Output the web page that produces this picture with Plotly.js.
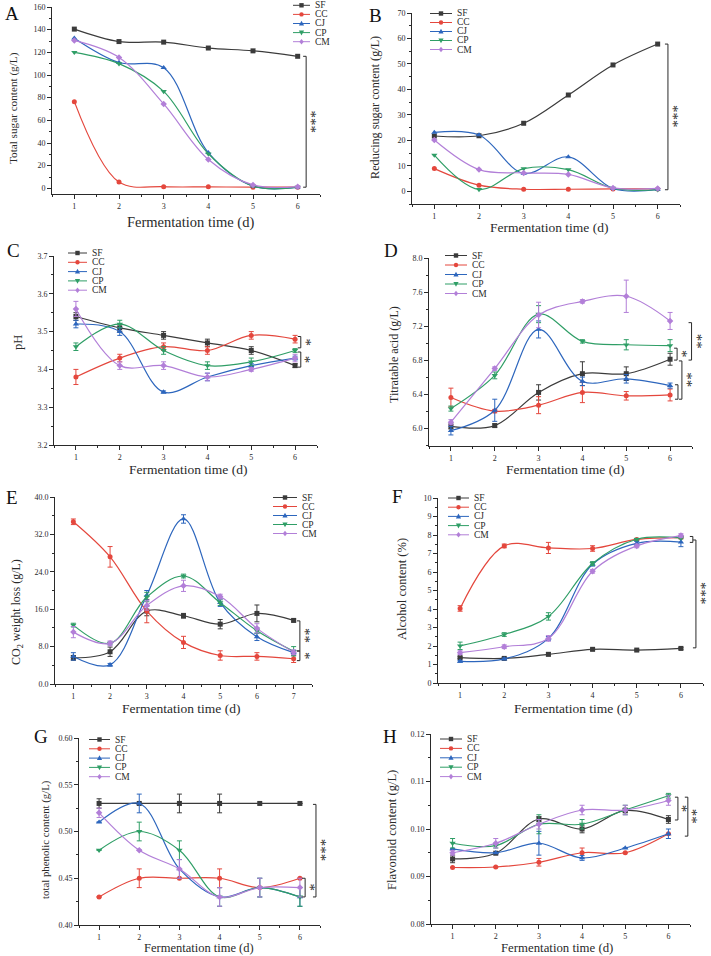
<!DOCTYPE html>
<html><head><meta charset="utf-8">
<script src="https://cdn.plot.ly/plotly-3.0.1.min.js"></script>
<style>html,body{margin:0;padding:0;background:#fff}#chart{width:711px;height:956px}</style>
</head><body><div id="chart"></div>
<script>
// ---------- DATA ----------
const seriesNames = ['SF', 'CC', 'CJ', 'CP', 'CM'];
const days6 = [1, 2, 3, 4, 5, 6];
const days7 = [1, 2, 3, 4, 5, 6, 7];

// A: Total sugar content (g/L)
const sugarSF = [140.5, 129.5, 129, 123.8, 121.3, 116.5];
const sugarCC = [76.5, 5.5, 1.5, 1.3, 1, 1];
const sugarCJ = [132.5, 111, 106.5, 31.5, 2, 1];
const sugarCP = [120, 110, 85.5, 30.5, 2, 1];
const sugarCM = [130.5, 115.5, 74.5, 25.5, 3, 1.5];

// B: Reducing sugar content (g/L)
const redSF = [21.7, 21.8, 26.7, 37.8, 49.6, 57.8];
const redCC = [8.9, 2.4, 0.8, 0.8, 0.9, 0.9];
const redCJ = [23.1, 22.1, 7.0, 13.5, 1.1, 0.7];
const redCP = [14.2, 0.7, 8.9, 8.5, 1.2, 0.6];
const redCM = [20.1, 8.5, 7.2, 6.6, 1.3, 1.1];

// C: pH
const phSF = [3.54, 3.51, 3.49, 3.47, 3.45, 3.41];
const phCC = [3.38, 3.43, 3.46, 3.45, 3.49, 3.48];
const phCJ = [3.52, 3.50, 3.34, 3.38, 3.41, 3.43];
const phCP = [3.46, 3.52, 3.45, 3.41, 3.42, 3.45];
const phCM = [3.56, 3.41, 3.41, 3.38, 3.40, 3.43];
const phErrSF = [0.01, 0.01, 0.01, 0.01, 0.01, 0.005];
const phErrCC = [0.02, 0.01, 0.01, 0.01, 0.01, 0.01];
const phErrCJ = [0.01, 0.01, 0.003, 0.01, 0.005, 0.005];
const phErrCP = [0.01, 0.01, 0.01, 0.01, 0.01, 0.005];
const phErrCM = [0.02, 0.01, 0.01, 0.01, 0.005, 0.01];

// D: Titratable acid (g/L)
const taSF = [6.02, 6.03, 6.42, 6.64, 6.64, 6.81];
const taCC = [6.36, 6.20, 6.27, 6.42, 6.38, 6.39];
const taCJ = [5.97, 6.21, 7.16, 6.55, 6.58, 6.50];
const taCP = [6.23, 6.62, 7.34, 7.02, 6.98, 6.97];
const taCM = [6.07, 6.70, 7.33, 7.49, 7.55, 7.26];
const taErrSF = [0.03, 0.02, 0.09, 0.14, 0.08, 0.07];
const taErrCC = [0.11, 0.02, 0.10, 0.12, 0.05, 0.07];
const taErrCJ = [0.05, 0.13, 0.10, 0.05, 0.05, 0.03];
const taErrCP = [0.03, 0.04, 0.10, 0.02, 0.06, 0.07];
const taErrCM = [0.03, 0.02, 0.15, 0.02, 0.19, 0.10];

// E: CO2 weight loss (g/L), 7 days
const co2SF = [5.6, 6.9, 15.6, 14.6, 12.8, 15.1, 13.6];
const co2CC = [34.7, 27.2, 15.6, 8.9, 6.1, 5.9, 5.4];
const co2CJ = [5.9, 4.1, 19.0, 35.3, 17.4, 10.1, 6.7];
const co2CP = [12.6, 8.7, 18.6, 23.1, 17.4, 11.4, 7.0];
const co2CM = [11.1, 8.7, 16.8, 21.0, 18.7, 11.9, 6.8];
const co2ErrSF = [0.5, 1.0, 1.0, 0.5, 1.0, 1.8, 0.3];
const co2ErrCC = [0.6, 2.2, 2.5, 1.3, 1.0, 0.8, 0.8];
const co2ErrCJ = [0.8, 0.3, 1.0, 0.9, 0.8, 0.8, 0.5];
const co2ErrCP = [0.4, 0.3, 1.0, 0.4, 0.6, 0.6, 1.0];
const co2ErrCM = [1.2, 0.5, 1.0, 1.2, 0.5, 1.0, 0.5];

// F: Alcohol content (%)
const alcSF = [1.37, 1.33, 1.55, 1.82, 1.78, 1.87];
const alcCC = [4.03, 7.41, 7.30, 7.27, 7.76, 7.86];
const alcCJ = [1.17, 1.30, 2.41, 6.42, 7.55, 7.62];
const alcCP = [2.01, 2.62, 3.60, 6.46, 7.77, 7.84];
const alcCM = [1.64, 1.96, 2.41, 6.04, 7.41, 7.97];
const alcErrSF = [0.05, 0.05, 0.08, 0.05, 0.04, 0.05];
const alcErrCC = [0.15, 0.10, 0.30, 0.15, 0.05, 0.05];
const alcErrCJ = [0.05, 0.05, 0.10, 0.10, 0.10, 0.25];
const alcErrCP = [0.20, 0.10, 0.20, 0.10, 0.05, 0.05];
const alcErrCM = [0.10, 0.10, 0.15, 0.10, 0.10, 0.10];

// G: total phenolic content (g/L)
const phenSF = [0.53, 0.53, 0.53, 0.53, 0.53, 0.53];
const phenCC = [0.43, 0.45, 0.45, 0.45, 0.44, 0.45];
const phenCJ = [0.51, 0.53, 0.46, 0.43, 0.44, 0.43];
const phenCP = [0.48, 0.50, 0.48, 0.43, 0.44, 0.43];
const phenCM = [0.52, 0.48, 0.46, 0.43, 0.44, 0.44];
const phenErrSF = [0.005, 0, 0.01, 0.01, 0, 0];
const phenErrCC = [0, 0.01, 0, 0.01, 0, 0];
const phenErrCJ = [0, 0.01, 0.01, 0.01, 0.01, 0.01];
const phenErrCP = [0, 0.01, 0.01, 0.01, 0.01, 0.01];
const phenErrCM = [0.005, 0, 0.01, 0.01, 0.01, 0.01];

// H: Flavonoid content (g/L)
const flavSF = [0.0937, 0.0949, 0.1021, 0.1000, 0.1039, 0.1020];
const flavCC = [0.0919, 0.0920, 0.0930, 0.0950, 0.0950, 0.0990];
const flavCJ = [0.0958, 0.0950, 0.0970, 0.0939, 0.0960, 0.0990];
const flavCP = [0.0970, 0.0965, 0.1010, 0.1010, 0.1040, 0.1070];
const flavCM = [0.0950, 0.0970, 0.1010, 0.1040, 0.1040, 0.1060];
const flavErrSF = [0.0008, 0, 0.0005, 0.0008, 0.0005, 0.0008];
const flavErrCC = [0, 0, 0.0008, 0.001, 0, 0];
const flavErrCJ = [0, 0, 0.0025, 0.0005, 0, 0.001];
const flavErrCP = [0.001, 0.0005, 0.002, 0.001, 0.001, 0.0005];
const flavErrCM = [0.0005, 0.001, 0.001, 0.001, 0.001, 0.001];

// ---------- STYLE / LAYOUT ----------
const W = 711, H = 956;
const colors = ['#3b3b3b', '#e4473d', '#2d66bd', '#2f9e66', '#b27fd8'];
const symbols = ['square', 'circle', 'triangle-up', 'triangle-down', 'diamond'];
const SERIF = 'Liberation Serif, Times New Roman, serif';
const INK = '#2a2a2a';

const panels = [
  {letter:'A', box:[52,320,7,194], xr:[0.5,6.5], yr:[-5,160], t0:0, dt:20, mdt:10, fmt:'d', x:days6,
   ys:[sugarSF,sugarCC,sugarCJ,sugarCP,sugarCM], es:null,
   ytitle:'Total sugar content (g/L)', yt:[13,108], yfs:11.2, xt:[191,222.5], xfs:14.5, lt:[12,14], leg:[293,310,5.3,9.1]},
  {letter:'B', box:[412,680,13,204], xr:[0.5,6.5], yr:[-5,70], t0:0, dt:10, mdt:5, fmt:'d', x:days6,
   ys:[redSF,redCC,redCJ,redCP,redCM], es:null,
   ytitle:'Reducing sugar content (g/L)', yt:[375,108], yfs:12.2, xt:[549,227.5], xfs:13.5, lt:[375,15], leg:[430,452,13.5,9]},
  {letter:'C', box:[54,317,256,445], xr:[0.5,6.5], yr:[3.2,3.7], t0:3.2, dt:0.1, mdt:0.05, fmt:'.1f', x:days6,
   ys:[phSF,phCC,phCJ,phCP,phCM], es:[phErrSF,phErrCC,phErrCJ,phErrCP,phErrCM],
   ytitle:'pH', yt:[18,343], yfs:12.5, xt:[188,469], xfs:13.5, lt:[13,250], leg:[68,87,253,9.3]},
  {letter:'D', box:[429,692,258,446], xr:[0.5,6.5], yr:[5.79,8.0], t0:6.0, dt:0.4, mdt:0.2, fmt:'.1f', x:days6,
   ys:[taSF,taCC,taCJ,taCP,taCM], es:[taErrSF,taErrCC,taErrCJ,taErrCP,taErrCM],
   ytitle:'Titratable acid (g/L)', yt:[394,355], yfs:12, xt:[565,469], xfs:13.5, lt:[391,250], leg:[445,467,255.5,9.5]},
  {letter:'E', box:[55,312,497,684], xr:[0.5,7.5], yr:[0,40], t0:0, dt:8, mdt:4, fmt:'.1f', x:days7,
   ys:[co2SF,co2CC,co2CJ,co2CP,co2CM], es:[co2ErrSF,co2ErrCC,co2ErrCJ,co2ErrCP,co2ErrCM],
   ytitle:'CO<sub>2</sub> weight loss (g/L)', yt:[17,612], yfs:12, xt:[181,708], xfs:13.5, lt:[12,497], leg:[273,297,497.5,9]},
  {letter:'F', box:[438,703,498,683], xr:[0.5,6.5], yr:[0,10], t0:0, dt:1, mdt:0.5, fmt:'d', x:days6,
   ys:[alcSF,alcCC,alcCJ,alcCP,alcCM], es:[alcErrSF,alcErrCC,alcErrCJ,alcErrCP,alcErrCM],
   ytitle:'Alcohol content (%)', yt:[402,589], yfs:12.5, xt:[573,708], xfs:13.5, lt:[397,496], leg:[448,469,498,9.2]},
  {letter:'G', box:[79,320,738,925], xr:[0.5,6.5], yr:[0.4,0.6], t0:0.4, dt:0.05, mdt:0.025, fmt:'.2f', x:days6,
   ys:[phenSF,phenCC,phenCJ,phenCP,phenCM], es:[phenErrSF,phenErrCC,phenErrCJ,phenErrCP,phenErrCM],
   ytitle:'total phenolic content (g/L)', yt:[45,840], yfs:10.8, xt:[199,948], xfs:12.5, lt:[41,736], leg:[89,110,739.5,9.3]},
  {letter:'H', box:[431,690,734,924], xr:[0.5,6.5], yr:[0.08,0.12], t0:0.08, dt:0.01, mdt:0.005, fmt:'.2f', x:days6,
   ys:[flavSF,flavCC,flavCJ,flavCP,flavCM], es:[flavErrSF,flavErrCC,flavErrCJ,flavErrCP,flavErrCM],
   ytitle:'Flavonoid content (g/L)', yt:[392,830], yfs:12.6, xt:[557,948], xfs:12.8, lt:[390,736], leg:[440,462,739,9.4]}
];

// significance brackets (panel index, x in data units, top/bottom values, label)
const brackets = [
  {p:0, x:6.19, top:116.5, bot:1.0, label:'***'},
  {p:1, x:6.23, top:57.8, bot:0.6, label:'***'},
  {p:2, x:6.13, top:3.487, bot:3.457, label:'*'},
  {p:2, x:6.13, top:3.446, bot:3.406, label:'*'},
  {p:3, x:6.16, top:6.94, bot:6.80, label:'*'},
  {p:3, x:6.49, top:7.24, bot:6.80, label:'**'},
  {p:3, x:6.27, top:6.79, bot:6.34, label:'**'},
  {p:3, x:6.18, top:6.51, bot:6.34, label:''},
  {p:4, x:7.17, top:13.5, bot:7.06, label:'**'},
  {p:4, x:7.17, top:7.06, bot:5.0, label:'*'},
  {p:5, x:6.27, top:7.92, bot:7.60, label:''},
  {p:5, x:6.34, top:7.73, bot:1.90, label:'***'},
  {p:6, x:6.40, top:0.529, bot:0.43, label:'***'},
  {p:6, x:6.13, top:0.45, bot:0.43, label:'*'},
  {p:7, x:6.22, top:0.1067, bot:0.1019, label:'*'},
  {p:7, x:6.45, top:0.1067, bot:0.0985, label:'**'}
];

function PX(p, v) { return p.box[0] + (v - p.xr[0]) / (p.xr[1] - p.xr[0]) * (p.box[1] - p.box[0]); }
function PY(p, v) { return p.box[3] - (v - p.yr[0]) / (p.yr[1] - p.yr[0]) * (p.box[3] - p.box[2]); }
const fx = px => px / W;
const fy = py => 1 - py / H;

const traces = [];
const layout = {
  width: W, height: H, margin: {l:0, r:0, t:0, b:0},
  paper_bgcolor: '#fff', plot_bgcolor: '#fff', showlegend: false,
  font: {family: SERIF, color: INK},
  shapes: [], annotations: []
};

panels.forEach((p, i) => {
  const n = i + 1;
  const xa = 'x' + (n === 1 ? '' : n), ya = 'y' + (n === 1 ? '' : n);
  const xk = 'xaxis' + (n === 1 ? '' : n), yk = 'yaxis' + (n === 1 ? '' : n);
  layout[xk] = {
    domain: [fx(p.box[0]), fx(p.box[1])], range: p.xr, anchor: ya,
    showline: true, linecolor: INK, linewidth: 1, mirror: false,
    ticks: 'outside', ticklen: 4, tickwidth: 1, tickcolor: INK,
    tick0: 1, dtick: 1, showgrid: false, zeroline: false,
    minor: {ticks: 'outside', ticklen: 2, tickwidth: 1, tickcolor: INK, dtick: 0.5, tick0: 0.5, showgrid: false},
    tickfont: {family: SERIF, size: 8, color: INK}, fixedrange: true
  };
  layout[yk] = {
    domain: [fy(p.box[3]), fy(p.box[2])], range: p.yr, anchor: xa,
    showline: true, linecolor: INK, linewidth: 1,
    ticks: 'outside', ticklen: 4, tickwidth: 1, tickcolor: INK,
    tick0: p.t0, dtick: p.dt, tickformat: p.fmt, showgrid: false, zeroline: false,
    minor: {ticks: 'outside', ticklen: 2, tickwidth: 1, tickcolor: INK, dtick: p.mdt, tick0: p.t0, showgrid: false},
    tickfont: {family: SERIF, size: 8, color: INK}, fixedrange: true
  };
  p.ys.forEach((ys, s) => {
    const tr = {
      type: 'scatter', mode: 'lines+markers', x: p.x, y: ys, xaxis: xa, yaxis: ya,
      name: seriesNames[s], cliponaxis: false,
      line: {color: colors[s], width: 1.2, shape: 'spline', smoothing: 1},
      marker: {symbol: symbols[s], size: s >= 2 && s <= 3 ? 5.5 : 5, color: colors[s], line: {width: 0}}
    };
    if (p.es) tr.error_y = {type: 'data', array: p.es[s], visible: true, color: colors[s], thickness: 1, width: 2.5};
    traces.push(tr);
  });
  // panel letter
  layout.annotations.push({xref:'paper', yref:'paper', x: fx(p.lt[0]), y: fy(p.lt[1]), text: p.letter,
    showarrow:false, xanchor:'center', yanchor:'middle', font:{family:SERIF, size:19, color:'#111'}});
  // x title
  layout.annotations.push({xref:'paper', yref:'paper', x: fx(p.xt[0]), y: fy(p.xt[1]), text: 'Fermentation time (d)',
    showarrow:false, xanchor:'center', yanchor:'middle', font:{family:SERIF, size:p.xfs, color:INK}});
  // y title
  layout.annotations.push({xref:'paper', yref:'paper', x: fx(p.yt[0]), y: fy(p.yt[1]), text: p.ytitle, textangle: -90,
    showarrow:false, xanchor:'center', yanchor:'middle', font:{family:SERIF, size:p.yfs, color:INK}});
  // legend (drawn by hand so the entries sit as tightly as in the original)
  const [lx0, lx1, ly0, ldy] = p.leg;
  seriesNames.forEach((nm, s) => {
    const yy = ly0 + s * ldy, cx = (lx0 + lx1) / 2;
    layout.shapes.push({type:'line', xref:'paper', yref:'paper', x0: fx(lx0), x1: fx(lx1), y0: fy(yy), y1: fy(yy),
      line:{color: colors[s], width: 1}});
    let path;
    const r = 2.2;
    if (s === 0) path = [[cx-r,yy-r],[cx+r,yy-r],[cx+r,yy+r],[cx-r,yy+r]];
    else if (s === 2) path = [[cx,yy-r-0.6],[cx+r+0.4,yy+r-0.2],[cx-r-0.4,yy+r-0.2]];
    else if (s === 3) path = [[cx,yy+r+0.6],[cx+r+0.4,yy-r+0.2],[cx-r-0.4,yy-r+0.2]];
    else if (s === 4) path = [[cx,yy-r-0.6],[cx+r,yy],[cx,yy+r+0.6],[cx-r,yy]];
    if (s === 1) {
      layout.shapes.push({type:'circle', xref:'paper', yref:'paper', x0: fx(cx-r), x1: fx(cx+r), y0: fy(yy+r), y1: fy(yy-r),
        fillcolor: colors[s], line:{width:0}});
    } else {
      const d = path.map((q, k) => (k ? 'L' : 'M') + fx(q[0]).toFixed(5) + ',' + fy(q[1]).toFixed(5)).join(' ') + ' Z';
      layout.shapes.push({type:'path', xref:'paper', yref:'paper', path: d, fillcolor: colors[s], line:{width:0}});
    }
    layout.annotations.push({xref:'paper', yref:'paper', x: fx(lx1 + 3), y: fy(yy), text: nm, showarrow:false,
      xanchor:'left', yanchor:'middle', font:{family:SERIF, size:9.5, color:INK}});
  });
});

// significance brackets
brackets.forEach(b => {
  const p = panels[b.p];
  const x = PX(p, b.x), yt = PY(p, b.top), yb = PY(p, b.bot);
  const tick = 3;
  const seg = (xa, ya, xb, yb2) => layout.shapes.push({type:'line', xref:'paper', yref:'paper',
    x0: fx(xa), y0: fy(ya), x1: fx(xb), y1: fy(yb2), line:{color: INK, width: 1}});
  seg(x, yt, x, yb);
  seg(x - tick, yt, x, yt);
  seg(x - tick, yb, x, yb);
  if (b.label) {
    layout.annotations.push({xref:'paper', yref:'paper', x: fx(x + 5), y: fy((yt + yb) / 2), text: b.label,
      textangle: 90, showarrow:false, xanchor:'center', yanchor:'middle', font:{family:SERIF, size:15, color:INK}});
  }
});

Plotly.newPlot('chart', traces, layout, {staticPlot: true, displayModeBar: false});
</script>
</body></html>
